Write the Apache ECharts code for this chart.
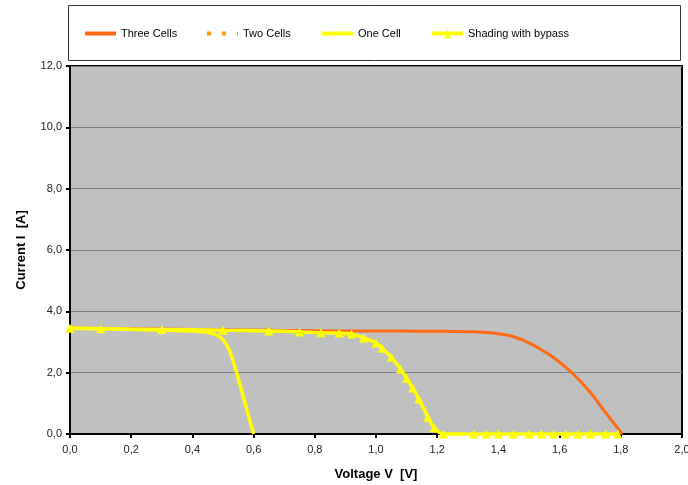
<!DOCTYPE html>
<html><head><meta charset="utf-8">
<script src="https://cdn.jsdelivr.net/npm/echarts@6/dist/echarts.min.js"></script>
<style>html,body{margin:0;padding:0;background:#fff}#c{width:688px;height:485px}</style>
</head><body><div id="c"></div>
<script>
var xTicks = [0,0.2,0.4,0.6,0.8,1.0,1.2,1.4,1.6,1.8,2.0];
var yTicks = [0,2,4,6,8,10,12];

var threeV = [0,0.2,0.4,0.6,0.8,1.0,1.05,1.1,1.15,1.2,1.25,1.3,1.35,1.4,1.45,1.5,1.55,1.6,1.65,1.7,1.75,1.805];
var threeI = [3.45,3.43,3.41,3.39,3.37,3.36,3.36,3.355,3.35,3.35,3.345,3.335,3.315,3.27,3.17,2.97,2.69,2.34,1.9,1.36,0.7,0];

var twoV = [0,0.1,0.3,0.5,0.65,0.75,0.82,0.88,0.92,0.96,1.0,1.02,1.05,1.08,1.1,1.12,1.14,1.17,1.19,1.22,1.32,1.36,1.4,1.45,1.5,1.54,1.58,1.62,1.66,1.7,1.75,1.79];
var twoI = [3.45,3.43,3.41,3.38,3.36,3.33,3.3,3.29,3.26,3.13,2.97,2.8,2.5,2.12,1.82,1.5,1.14,0.55,0.2,0,0,0,0,0,0,0,0,0,0,0,0,0];

var oneV = [0,0.1,0.2,0.3,0.4,0.45,0.48,0.5,0.52,0.54,0.56,0.58,0.6];
var oneI = [3.45,3.43,3.41,3.39,3.36,3.31,3.22,3.07,2.75,2.15,1.45,0.72,0];

var shadeV = [0,0.1,0.3,0.5,0.65,0.75,0.82,0.88,0.92,0.96,1.0,1.02,1.05,1.08,1.1,1.12,1.14,1.17,1.19,1.22,1.32,1.36,1.4,1.45,1.5,1.54,1.58,1.62,1.66,1.7,1.75,1.79];
var shadeI = [3.45,3.43,3.41,3.38,3.36,3.33,3.3,3.29,3.26,3.13,2.97,2.8,2.5,2.12,1.82,1.5,1.14,0.55,0.2,0,0,0,0,0,0,0,0,0,0,0,0,0];

function pairs(xs, ys){ return xs.map(function(x,i){return [x, ys[i]];}); }
function fmt(v){ return v.toFixed(1).replace('.', ','); }

var font = 'Liberation Sans, Arial, sans-serif';
var chart = echarts.init(document.getElementById('c'));
function leg(name, left, icon, h, color){
  return {data:[{name:name, icon:icon, itemStyle:{color:color, borderWidth:0}}], left:left, top:28, padding:0, itemWidth:31, itemHeight:h, itemGap:0,
    textStyle:{fontFamily:font, fontSize:11, color:'#000'}, selectedMode:false};
}
chart.setOption({
  animation:false,
  backgroundColor:'#fff',
  graphic:[{type:'rect', shape:{x:68.5, y:5.5, width:612, height:55}, style:{fill:'#fff', stroke:'#333', lineWidth:1}, z:-1}],
  legend:[
    leg('Three Cells',85,'rect',4,'#ff6a13'),
    leg('Two Cells',207,'path://M0,0h4v4h-4zM15,0h4v4h-4zM30,0h1v4h-1z',4,'#ff9a10'),
    leg('One Cell',322,'rect',4,'#ffff00'),
    leg('Shading with bypass',432,'path://M0,3h31v4h-31zM13,10l2.5,-10l2.5,10z',10,'#ffff00')
  ],
  grid:{left:70, right:6, top:66, bottom:51, show:true, backgroundColor:'#c0c0c0', borderColor:'#000', borderWidth:2, containLabel:false, outerBoundsMode:'none'},
  xAxis:{type:'value', min:0, max:2, interval:0.2,
    name:'Voltage V  [V]', nameLocation:'middle', nameGap:34,
    nameTextStyle:{fontFamily:font, fontSize:13, fontWeight:'bold', color:'#000'},
    axisLine:{lineStyle:{color:'#000', width:2}}, axisTick:{show:true, length:4, lineStyle:{color:'#000', width:2}},
    axisLabel:{formatter:fmt, fontFamily:font, fontSize:11, color:'#222', margin:10},
    splitLine:{show:false}},
  yAxis:{type:'value', min:0, max:12, interval:2,
    name:'Current I  [A]', nameLocation:'middle', nameGap:42,
    nameTextStyle:{fontFamily:font, fontSize:13, fontWeight:'bold', color:'#000'},
    axisLine:{show:true, lineStyle:{color:'#000', width:2}}, axisTick:{show:true, length:4, lineStyle:{color:'#000', width:2}},
    axisLabel:{formatter:fmt, fontFamily:font, fontSize:11, color:'#222', margin:8},
    splitLine:{show:true, lineStyle:{color:'#808080', width:1}}},
  series:[
    {name:'Three Cells', type:'line', data:pairs(threeV, threeI), smooth:0.5, showSymbol:false, symbol:'none', clip:false,
      lineStyle:{color:'#ff6a13', width:3}, itemStyle:{color:'#ff6a13'}, z:2},
    {name:'Two Cells', type:'line', data:pairs(twoV, twoI), smooth:0.3, showSymbol:false, symbol:'none', clip:false,
      lineStyle:{color:'#ff9a10', width:3, type:[5,8]}, itemStyle:{color:'#ff9a10'}, z:3},
    {name:'One Cell', type:'line', data:pairs(oneV, oneI), smooth:0.3, showSymbol:false, symbol:'none', clip:false,
      lineStyle:{color:'#ffff00', width:3.5}, itemStyle:{color:'#ffff00'}, z:4},
    {name:'Shading with bypass', type:'line', data:pairs(shadeV, shadeI), smooth:0.3, symbol:'triangle', symbolSize:9, showSymbol:true, clip:false,
      lineStyle:{color:'#ffff00', width:3.5}, itemStyle:{color:'#ffff00'}, z:5}
  ]
});
</script></body></html>
